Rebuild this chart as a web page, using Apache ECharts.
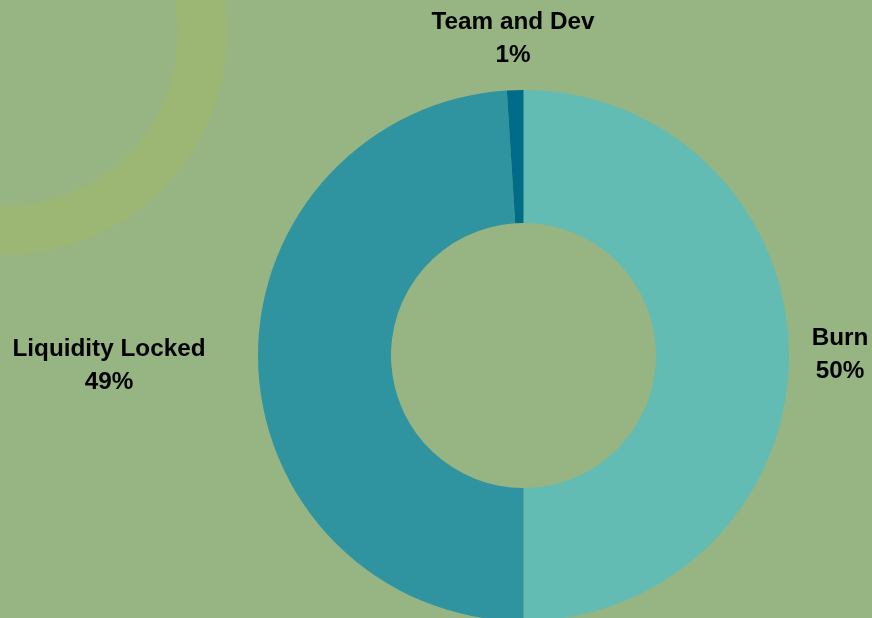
<!DOCTYPE html>
<html>
<head>
<meta charset="utf-8">
<script src="https://cdn.jsdelivr.net/npm/echarts@6/dist/echarts.min.js"></script>
<style>
    html, body { margin: 0; padding: 0; background: #97b582; }
    #main { width: 872px; height: 618px; }
</style>
</head>
<body>
<div id="main"></div>
<script>
var names = ["Burn", "Liquidity Locked", "Team and Dev"];
var shares = [50, 49, 1];
var colors = ["#62bcb3", "#2f93a0", "#006c87"];

var data = [];
for(var i = 0; i < names.length; i++){
    data.push({
        name: names[i],
        value: shares[i],
        itemStyle: { color: colors[i] }
    });
}

var myChart = echarts.init(document.getElementById("main"));
myChart.setOption({
    backgroundColor: "#97b582",
    animation: false,
    graphic: [
        {   // 左上角的装饰圆环
            type: "ring",
            silent: true,
            z: -1,
            shape: { cx: 5, cy: 33, r: 222, r0: 173 },
            style: { fill: "#9cb673" }
        }
    ],
    series: [
        {
            type: "pie",
            center: [523.5, 355.5],
            radius: [132.5, 265.5],
            startAngle: 90,
            clockwise: true,
            avoidLabelOverlap: false,
            label: {
                show: true,
                position: "outside",
                formatter: "{b}\n{d}%",
                fontFamily: "Liberation Sans",
                fontWeight: "bold",
                fontSize: 24.3,
                lineHeight: 33,
                color: "#000"
            },
            labelLine: { show: false, length: 10, length2: 12 },
            labelLayout: function(params){
                // 让标签文字居中, 再按原图平移
                var r = params.labelRect;
                var anchorX = r.x;
                if(params.align == "right"){
                    anchorX = r.x + r.width;
                }else if(params.align == "center"){
                    anchorX = r.x + r.width / 2;
                }
                var cy = r.y + r.height / 2;
                var target = [[840, 355], [109, 365.5], [513, 39]][params.dataIndex];
                return { align: "center", dx: target[0] - anchorX, dy: target[1] - cy };
            },
            data: data
        }
    ]
});
</script>
</body>
</html>
